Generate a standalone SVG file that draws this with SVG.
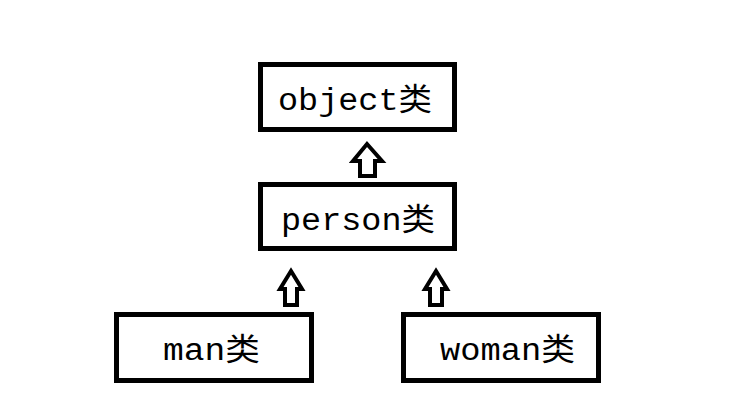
<svg xmlns="http://www.w3.org/2000/svg" width="742" height="420" viewBox="0 0 742 420">
<style>
.box{fill:#fff;stroke:#000;stroke-width:5}
.t{font-family:"Liberation Mono","Noto Sans CJK SC",monospace;font-size:31px;fill:#000}
.arr{fill:#fff;stroke:#000;stroke-width:4;stroke-linejoin:miter}
</style>
<rect width="742" height="420" fill="#fff"/>
<g id="object"><rect class="box" x="260.5" y="64.5" width="194" height="65"/><text class="t" x="278" y="110" textLength="154" lengthAdjust="spacingAndGlyphs">object类</text></g>
<g id="person"><rect class="box" x="260.5" y="184.5" width="194" height="64"/><text class="t" x="281" y="230" textLength="154" lengthAdjust="spacingAndGlyphs">person类</text></g>
<g id="man"><rect class="box" x="116.5" y="314.5" width="195" height="66"/><text class="t" x="163" y="360" textLength="97" lengthAdjust="spacingAndGlyphs">man类</text></g>
<g id="woman"><rect class="box" x="403.5" y="314.5" width="195" height="66"/><text class="t" x="440" y="360" textLength="135" lengthAdjust="spacingAndGlyphs">woman类</text></g>
<g id="connectors">
<polygon class="arr" points="367,144 382,161 375,161 375,176 360,176 360,161 353,161"/>
<polygon class="arr" points="291,271 302,289 297,289 297,305 285,305 285,289 280,289"/>
<polygon class="arr" points="436,271 447,289 442,289 442,305 430,305 430,289 425,289"/>
</g>
</svg>
